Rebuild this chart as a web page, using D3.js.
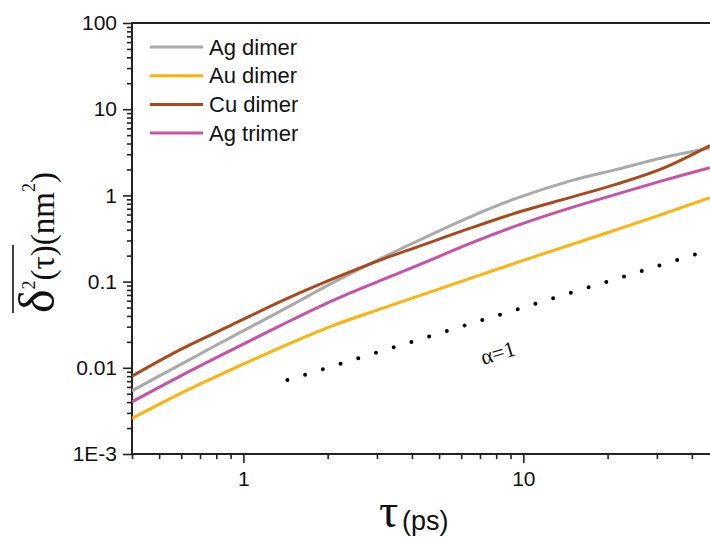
<!DOCTYPE html>
<html>
<head>
<meta charset="utf-8">
<script src="https://cdn.jsdelivr.net/npm/d3@7"></script>
<style>
  html, body { margin: 0; padding: 0; background: #fff; }
  svg { display: block; }
</style>
</head>
<body>
<svg id="chart" width="710" height="537"></svg>
<script>
// ---- data ----
const tau = [0.4, 0.6, 0.906, 1.367, 2.064, 3.114, 4.259, 6.427, 9.70, 14.64, 21.56, 31.48, 46.4];
const agDimer  = [0.005408, 0.01104, 0.02270, 0.04608, 0.0953, 0.1874, 0.3030, 0.5601, 0.9556, 1.465, 2.003, 2.731, 3.538];
const auDimer  = [0.00259, 0.00509, 0.00953, 0.01738, 0.03047, 0.04861, 0.06879, 0.1083, 0.1706, 0.2651, 0.4011, 0.6067, 0.943];
const cuDimer  = [0.00801, 0.01648, 0.0313, 0.0594, 0.1060, 0.1800, 0.2581, 0.4142, 0.6452, 0.943, 1.352, 2.057, 3.782];
const agTrimer = [0.00403, 0.00812, 0.01604, 0.0313, 0.0594, 0.1041, 0.1575, 0.2760, 0.4583, 0.7121, 1.035, 1.485, 2.101];
const seriesNames = ["Ag dimer", "Au dimer", "Cu dimer", "Ag trimer"];
const seriesColors = ["#aaaaaa", "#ffb20a", "#a84a1c", "#c852a8"];
const alphaLineTau = [1.436, 41];
const alphaLineVal = [0.0072, 0.2056];
const yTickValues = [1e-3, 0.01, 0.1, 1, 10, 100];
const yTickLabels = ["1E-3", "0.01", "0.1", "1", "10", "100"];
const xTickValues = [1, 10];
const xTickLabels = ["1", "10"];

const series = [agDimer, auDimer, cuDimer, agTrimer].map((vals, i) => ({
  name: seriesNames[i], color: seriesColors[i],
  points: tau.map((t, j) => ({t, v: vals[j]}))
}));

// ---- layout ----
const svg = d3.select("#chart");
const mLeft = 132, mTop = 23, mBottom = 454, mRight = 719;
const x = d3.scaleLog().domain([0.4, 50]).range([mLeft, mRight]);
const y = d3.scaleLog().domain([1e-3, 100]).range([mBottom, mTop]);

svg.append("defs").append("clipPath").attr("id", "plotclip")
  .append("rect").attr("x", mLeft).attr("y", mTop).attr("width", 710 - mLeft).attr("height", mBottom - mTop);

// minor ticks
const yMinor = [];
for (let e = -3; e < 2; e++) for (let k = 2; k <= 9; k++) yMinor.push(k * Math.pow(10, e));
const xMinor = [];
for (let e = -1; e < 2; e++) for (let k = 2; k <= 9; k++) {
  const v = k * Math.pow(10, e);
  if (v >= 0.4 && v <= 46) xMinor.push(v);
}
const font = "'Liberation Sans', Arial, sans-serif";
const serif = "'Liberation Serif', 'Times New Roman', serif";

const yMinorAxis = svg.append("g").attr("transform", `translate(${mLeft},0)`)
  .call(d3.axisLeft(y).tickValues(yMinor).tickSize(5).tickFormat(""));
const yMajorAxis = svg.append("g").attr("transform", `translate(${mLeft},0)`)
  .call(d3.axisLeft(y).tickValues(yTickValues).tickSize(9).tickPadding(6)
    .tickFormat((d, i) => yTickLabels[i]));
const xMinorAxis = svg.append("g").attr("transform", `translate(0,${mBottom})`)
  .call(d3.axisBottom(x).tickValues(xMinor).tickSize(5).tickFormat(""));
const xMajorAxis = svg.append("g").attr("transform", `translate(0,${mBottom})`)
  .call(d3.axisBottom(x).tickValues(xTickValues).tickSize(9).tickPadding(8)
    .tickFormat((d, i) => xTickLabels[i]));

[yMinorAxis, yMajorAxis, xMinorAxis, xMajorAxis].forEach(g => {
  g.selectAll(".domain").remove();
  g.selectAll("line").attr("stroke", "#222").attr("stroke-width", 1.6);
  g.selectAll("text").attr("fill", "#111").style("font-family", font).style("font-size", "21px");
});

// axis frame lines
svg.append("line").attr("x1", mLeft).attr("x2", mLeft).attr("y1", mTop - 1).attr("y2", mBottom + 1)
  .attr("stroke", "#222").attr("stroke-width", 2);
svg.append("line").attr("x1", mLeft).attr("x2", 710).attr("y1", mBottom).attr("y2", mBottom)
  .attr("stroke", "#222").attr("stroke-width", 2);
svg.append("line").attr("x1", mLeft).attr("x2", 710).attr("y1", mTop).attr("y2", mTop)
  .attr("stroke", "#222").attr("stroke-width", 2);

// series lines
const line = d3.line().x(d => x(d.t)).y(d => y(d.v)).curve(d3.curveCatmullRom.alpha(0.5));
const plot = svg.append("g").attr("clip-path", "url(#plotclip)");
plot.selectAll("path.series").data(series).join("path")
  .attr("class", "series")
  .attr("d", d => line(d.points))
  .attr("fill", "none").attr("stroke", d => d.color).attr("stroke-width", 3);

// alpha = 1 dotted guide line
const aPts = alphaLineTau.map((t, i) => ({t, v: alphaLineVal[i]}));
const aPath = plot.append("path").attr("d", d3.line().x(d => x(d.t)).y(d => y(d.v))(aPts))
  .attr("fill", "none").attr("stroke", "#000").attr("stroke-width", 4)
  .attr("stroke-linecap", "round");
const L = aPath.node().getTotalLength();
aPath.attr("stroke-dasharray", `0 ${L / 23}`);

svg.append("text").attr("transform", "translate(500,360) rotate(-17)")
  .attr("text-anchor", "middle")
  .style("font-family", serif).style("font-size", "22px")
  .attr("fill", "#111").text("α=1");

// legend
const legend = svg.append("g");
series.forEach((s, i) => {
  const ly = 47 + i * 28.7;
  legend.append("line").attr("x1", 150).attr("x2", 203).attr("y1", ly).attr("y2", ly)
    .attr("stroke", s.color).attr("stroke-width", 3);
  legend.append("text").attr("x", 209).attr("y", ly + 7.5)
    .style("font-family", font).style("font-size", "22px").attr("fill", "#111").text(s.name);
});

// x axis title
svg.append("text").attr("x", 379).attr("y", 527).attr("fill", "#111")
  .style("font-family", serif).style("font-size", "48px").text("τ");
svg.append("text").attr("x", 402).attr("y", 530).attr("fill", "#111")
  .style("font-family", font).style("font-size", "27px").text("(ps)");

// y axis title
const yt = svg.append("text").attr("transform", "translate(54,313) rotate(-90)").attr("fill", "#111")
  .style("font-family", serif);
yt.append("tspan").style("font-size", "50px").text("δ");
yt.append("tspan").style("font-size", "18px").attr("dy", -19).text("2");
yt.append("tspan").style("font-size", "33px").attr("dy", 19).text("(τ)(nm");
yt.append("tspan").style("font-size", "18px").attr("dy", -19).text("2");
yt.append("tspan").style("font-size", "33px").attr("dy", 19).text(")");
// overline over δ²(τ)
svg.append("line").attr("x1", 13).attr("x2", 13).attr("y1", 245).attr("y2", 313)
  .attr("stroke", "#111").attr("stroke-width", 1.6);
</script>
</body>
</html>
